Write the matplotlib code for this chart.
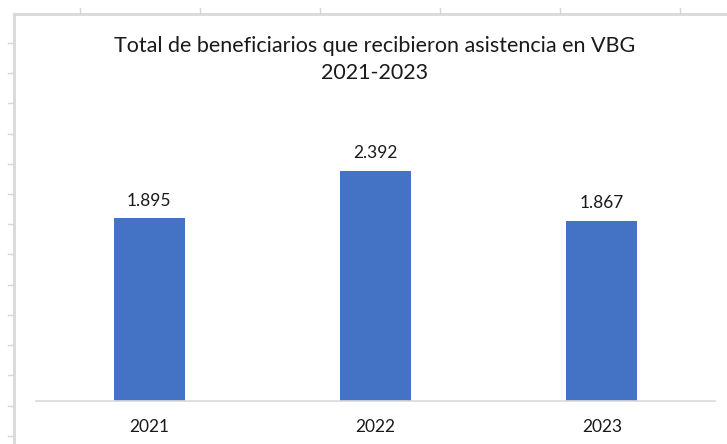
import matplotlib
matplotlib.use("Agg")
import matplotlib.pyplot as plt
from matplotlib.lines import Line2D

years = ["2021", "2022", "2023"]
beneficiarios = [1895, 2392, 1867]
labels = ["1.895", "2.392", "1.867"]

W, H = 727, 444
fig = plt.figure(figsize=(W / 100, H / 100), dpi=100)
fig.patch.set_facecolor("white")
font = "Lato"

def fx(px):
    return px / W

def fy(py):
    return 1 - py / H

# spreadsheet decoration (cell border ticks and chart frame)
grid_c = "#d6d6d6"
for x in range(80, 727, 120):
    fig.add_artist(Line2D([fx(x), fx(x)], [fy(8), fy(14)], color=grid_c, lw=1))
for y in range(43, 444, 30):
    fig.add_artist(Line2D([fx(8), fx(14)], [fy(y + y // 130), fy(y + y // 130)], color=grid_c, lw=1))
fig.add_artist(Line2D([fx(14), fx(727)], [fy(14), fy(14)], color="#d9d9d9", lw=2))
fig.add_artist(Line2D([fx(14), fx(14)], [fy(14), fy(444)], color="#d9d9d9", lw=2))

ax = fig.add_axes([fx(36), fy(401), fx(715) - fx(36), fy(112) - fy(401)])
x = list(range(len(years)))
bars = ax.bar(x, beneficiarios, width=0.313, color="#4472C4", zorder=2)
ax.set_xlim(-0.5, 2.5)
ax.set_ylim(0, 3000)
for b, lab in zip(bars, labels):
    ax.annotate(lab, (b.get_x() + b.get_width() / 2, b.get_height()),
                xytext=(0, 7), textcoords="offset points", ha="center", va="bottom",
                fontsize=12.5, family=font, color="#1a1a1a")
ax.set_xticks(x)
ax.set_xticklabels(years, fontsize=12.5, family=font, color="#1a1a1a")
ax.tick_params(axis="x", length=0, pad=13)
ax.set_yticks([])
for s in ["top", "right", "left"]:
    ax.spines[s].set_visible(False)
ax.spines["bottom"].set_color("#d9d9d9")
ax.spines["bottom"].set_linewidth(1.2)
ax.patch.set_alpha(0)

fig.text(fx(375), fy(46), "Total de beneficiarios que recibieron asistencia en VBG",
         ha="center", va="center", fontsize=15.5, family=font, color="#1a1a1a")
fig.text(fx(375), fy(73), "2021-2023", ha="center", va="center",
         fontsize=15.5, family=font, color="#1a1a1a")

fig.savefig("out.png", dpi=100, facecolor="white")
